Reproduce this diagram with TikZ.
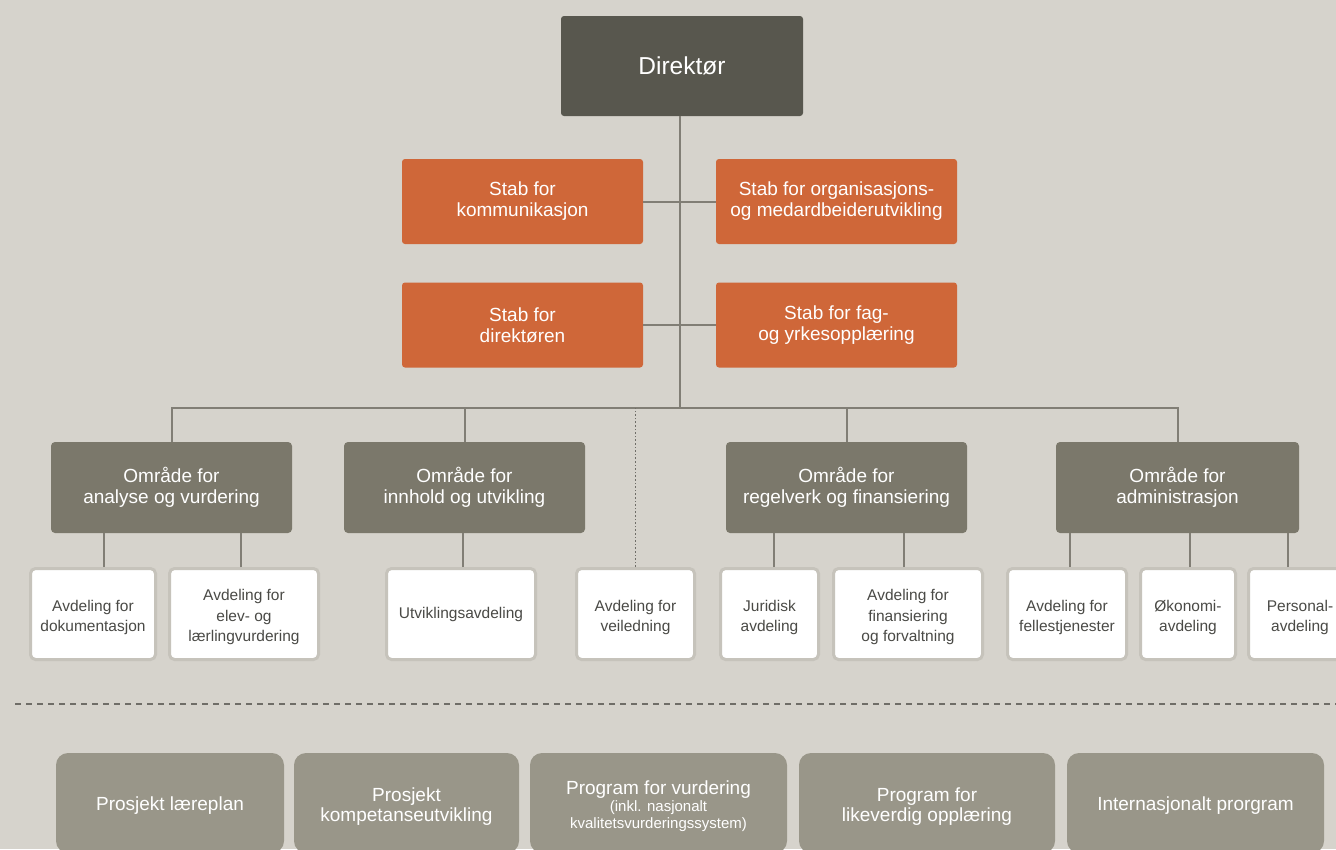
\documentclass[tikz,border=0pt]{standalone}
\usepackage{fontspec}
\setmainfont{Liberation Sans}
\definecolor{bg}{HTML}{D6D3CC}
\definecolor{dirc}{HTML}{58574E}
\definecolor{stabc}{HTML}{CF6739}
\definecolor{omrc}{HTML}{7B786B}
\definecolor{smallb}{HTML}{C6C3BB}
\definecolor{botc}{HTML}{999689}
\definecolor{linec}{HTML}{817E75}
\definecolor{dashc}{HTML}{6F6D67}
\definecolor{txtc}{HTML}{4A4A46}
\newcommand\avdstrut{\rule{0pt}{17.8pt}}
\newcommand\botstrut{\rule{0pt}{20.6pt}}
\newcommand\botstrutone{\rule{0pt}{19.6pt}}
\tikzset{
  dirbox/.style={fill=dirc, rounded corners=3pt, text=white, minimum width=242pt, minimum height=100pt, font=\fontsize{24.5}{26}\selectfont, inner sep=0pt},
  stabbox/.style={fill=stabc, rounded corners=3pt, text=white, minimum width=241pt, minimum height=85pt, align=center, font=\fontsize{19}{21}\selectfont, inner sep=0pt},
  omrbox/.style={fill=omrc, rounded corners=4pt, text=white, minimum width=241pt, minimum height=91pt, align=center, font=\fontsize{19}{21}\selectfont, inner sep=0pt},
  avdbox/.style={fill=white, draw=smallb, line width=3pt, rounded corners=5pt, text=txtc, minimum height=91pt, align=center, font=\fontsize{15.5}{20.5}\selectfont, inner sep=0pt},
  botbox/.style={fill=botc, rounded corners=12pt, text=white, minimum height=100pt, align=center, font=\fontsize{19}{20}\selectfont, inner sep=0pt},
  conn/.style={draw=linec, line width=2pt},
}
\begin{document}
\begin{tikzpicture}[x=1pt,y=-1pt]
\fill[bg] (0,0) rectangle (1336,849);
\useasboundingbox (0,0) rectangle (1336,849);
\clip (0,0) rectangle (1336,849);

\coordinate (bus) at (680,408);

% nodes
\node[dirbox] (dir) at (682,66) {Direktør};
\node[stabbox] (s1) at (522.5,201.5) {Stab for\\kommunikasjon};
\node[stabbox] (s2) at (836.5,201.5) {Stab for organisasjons-\\og medardbeiderutvikling};
\node[stabbox] (s3) at (522.5,325) {Stab for\\direktøren};
\node[stabbox] (s4) at (836.5,325) {Stab for fag-\\og yrkesopplæring};

\node[omrbox] (a1) at (171.5,487.5) {Område for\\analyse og vurdering};
\node[omrbox] (a2) at (464.5,487.5) {Område for\\innhold og utvikling};
\node[omrbox] (a3) at (846.5,487.5) {Område for\\regelverk og finansiering};
\node[omrbox, minimum width=243pt] (a4) at (1177.5,487.5) {Område for\\administrasjon};

\node[avdbox, minimum width=125pt] (d1) at (93,614) {\avdstrut Avdeling for\\dokumentasjon};
\node[avdbox, minimum width=149pt] (d2) at (244,614) {\avdstrut Avdeling for\\elev- og\\lærlingvurdering};
\node[avdbox, minimum width=149pt] (d3) at (461,614) {Utviklingsavdeling};
\node[avdbox, minimum width=118pt] (d4) at (635.5,614) {\avdstrut Avdeling for\\veiledning};
\node[avdbox, minimum width=98pt] (d5) at (769.5,614) {\avdstrut Juridisk\\avdeling};
\node[avdbox, minimum width=149pt] (d6) at (908,614) {\avdstrut Avdeling for\\finansiering\\og forvaltning};
\node[avdbox, minimum width=119pt] (d7) at (1067,614) {\avdstrut Avdeling for\\fellestjenester};
\node[avdbox, minimum width=95pt] (d8) at (1188,614) {\avdstrut Økonomi-\\avdeling};
\node[avdbox, minimum width=103pt] (d9) at (1300,614) {\avdstrut Personal-\\avdeling};

% connectors
\draw[conn] (dir.south -| bus) -- (bus);
\draw[conn] (s1.east) -- (s2.west);
\draw[conn] (s3.east) -- (s4.west);
\draw[conn] (a1.north) -- (a1.north |- bus) -- (a4.north |- bus) -- (a4.north);
\draw[conn] (a2.north) -- (a2.north |- bus);
\draw[conn] (a3.north) -- (a3.north |- bus);
\draw[draw=dashc, line width=1.5pt, dash pattern=on 1.6pt off 2pt] (d4.north) -- (d4.north |- bus);

\draw[conn] ([xshift=11pt]d1.north) -- ([xshift=11pt]d1.north |- a1.south);
\draw[conn] ([xshift=-3pt]d2.north) -- ([xshift=-3pt]d2.north |- a1.south);
\draw[conn] ([xshift=2pt]d3.north) -- ([xshift=2pt]d3.north |- a2.south);
\draw[conn] ([xshift=4.5pt]d5.north) -- ([xshift=4.5pt]d5.north |- a3.south);
\draw[conn] ([xshift=-4pt]d6.north) -- ([xshift=-4pt]d6.north |- a3.south);
\draw[conn] ([xshift=3pt]d7.north) -- ([xshift=3pt]d7.north |- a4.south);
\draw[conn] ([xshift=2pt]d8.north) -- ([xshift=2pt]d8.north |- a4.south);
\draw[conn] ([xshift=-12pt]d9.north) -- ([xshift=-12pt]d9.north |- a4.south);

% dashed separator
\coordinate (dl) at (15,704);
\coordinate (dr) at (1340,704);
\draw[draw=dashc, line width=1.4pt, dash pattern=on 6pt off 5pt] (dl) -- (dr);

% bottom boxes
\node[botbox, minimum width=228pt] (b1) at (170,803) {\botstrutone Prosjekt læreplan};
\node[botbox, minimum width=225pt] (b2) at (406.5,803) {\botstrut Prosjekt\\kompetanseutvikling};
\node[botbox, minimum width=257pt, font=\fontsize{15}{17}\selectfont] (b3) at (658.5,803) {{\fontsize{19}{19}\selectfont\botstrut Program for vurdering}\\(inkl. nasjonalt\\kvalitetsvurderingssystem)};
\node[botbox, minimum width=256pt] (b4) at (927,803) {\botstrut Program for\\likeverdig opplæring};
\node[botbox, minimum width=257pt] (b5) at (1195.5,803) {\botstrutone Internasjonalt prorgram};
\end{tikzpicture}
\end{document}
